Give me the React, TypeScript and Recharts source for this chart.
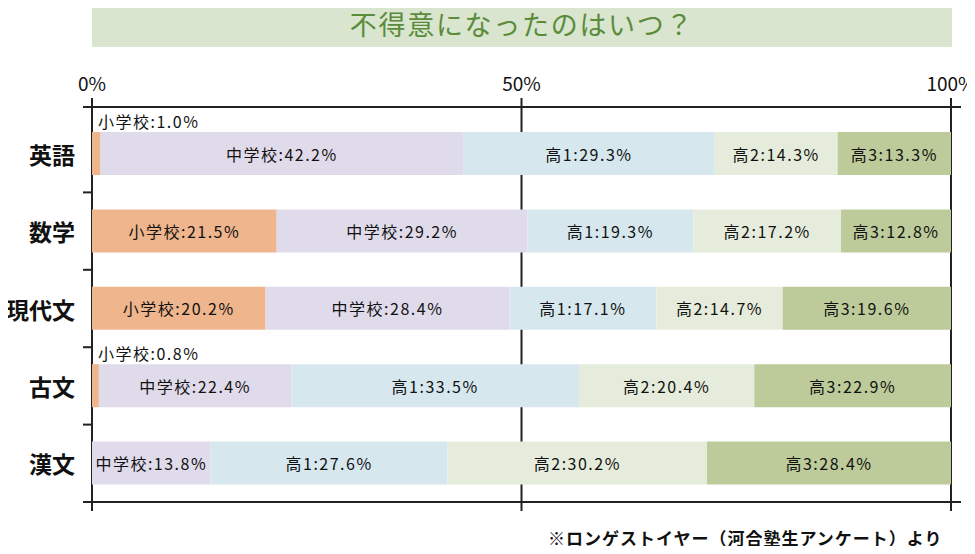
import { Bar, BarChart, CartesianGrid, LabelList, XAxis, YAxis } from "recharts";

const subjects = ["英語", "数学", "現代文", "古文", "漢文"];
const stages = ["小学校", "中学校", "高1", "高2", "高3"];
const elementary = [1.0, 21.5, 20.2, 0.8, 0];
const juniorHigh = [42.2, 29.2, 28.4, 22.4, 13.8];
const high1 = [29.3, 19.3, 17.1, 33.5, 27.6];
const high2 = [14.3, 17.2, 14.7, 20.4, 30.2];
const high3 = [13.3, 12.8, 19.6, 22.9, 28.4];
const percentTicks = [0, 50, 100];

const series = [elementary, juniorHigh, high1, high2, high3];
const colors = ["#efb58c", "#e0dbea", "#d6e7ee", "#e5ecdc", "#bccb99"];

const data = subjects.map((subject, i) => {
  const row: Record<string, string | number> = { subject };
  series.forEach((values, s) => {
    row[`s${s}`] = values[i];
  });
  return row;
});

const FONT = '"Noto Sans CJK JP", "Noto Sans", sans-serif';
const INK = "#222";
const LINE = { stroke: INK, strokeWidth: 2 };
const TICK_LEN = 9;

const segmentLabel = (stage: string) => (props: any) => {
  const { x, y, width, height, value } = props;
  const v = Number(value);
  if (!v) return null;
  const text = `${stage}:${v.toFixed(1)}%`;
  if (v < 3) {
    return (
      <text x={x + 6} y={y - 4} fontSize={16} letterSpacing={1.5} fill="#111" fontFamily={FONT}>
        {text}
      </text>
    );
  }
  return (
    <text
      x={x + width / 2}
      y={y + height / 2}
      textAnchor="middle"
      dominantBaseline="central"
      fontSize={16}
      letterSpacing={1.5}
      fill="#111"
      fontFamily={FONT}
    >
      {text}
    </text>
  );
};

// subject name plus a short tick on the boundary above each row
function SubjectTick(props: any) {
  const { x, y, payload, index } = props;
  const half = Number(payload?.offset) || 0;
  return (
    <g>
      {index > 0 && half > 0 && (
        <line x1={x} x2={x + TICK_LEN} y1={y - half} y2={y - half} {...LINE} />
      )}
      <text
        x={x - 8}
        y={y}
        textAnchor="end"
        dominantBaseline="central"
        fontSize={23}
        fontWeight={700}
        fill="#111"
        fontFamily={FONT}
      >
        {payload.value}
      </text>
    </g>
  );
}

export default function App() {
  return (
    <div
      style={{
        position: "relative",
        width: 975,
        height: 554,
        margin: -8,
        overflow: "hidden",
        fontFamily: FONT,
        background: "#fff",
      }}
    >
      <BarChart
        width={975}
        height={554}
        data={data}
        layout="vertical"
        margin={{ top: 77, right: 14, bottom: 32, left: 0 }}
      >
        <CartesianGrid horizontal={false} syncWithTicks stroke={INK} strokeWidth={2} />
        <XAxis
          type="number"
          orientation="top"
          domain={[0, 100]}
          allowDataOverflow
          ticks={percentTicks}
          tickFormatter={(v) => `${v}%`}
          padding={{ left: 9, right: 10 }}
          height={30}
          axisLine={LINE}
          tickLine={LINE}
          tickSize={TICK_LEN}
          tickMargin={7}
          tick={{ fontSize: 19, fill: "#111", fontFamily: FONT }}
        />
        <XAxis
          xAxisId="bottom"
          type="number"
          orientation="bottom"
          domain={[0, 100]}
          allowDataOverflow
          ticks={percentTicks}
          tickFormatter={() => ""}
          padding={{ left: 9, right: 10 }}
          height={20}
          axisLine={LINE}
          tickLine={LINE}
          tickSize={TICK_LEN}
        />
        <YAxis
          type="category"
          dataKey="subject"
          width={83}
          padding={{ top: 8, bottom: 0 }}
          axisLine={false}
          tickLine={false}
          tickSize={0}
          tickMargin={0}
          tick={SubjectTick}
        />
        {stages.map((stage, s) => (
          <Bar
            key={stage}
            dataKey={`s${s}`}
            name={stage}
            stackId="a"
            fill={colors[s]}
            barSize={43}
            isAnimationActive={false}
          >
            <LabelList dataKey={`s${s}`} content={segmentLabel(stage)} />
          </Bar>
        ))}
      </BarChart>
      <div
        style={{
          position: "absolute",
          left: 92,
          top: 0,
          width: 860,
          height: 47,
          background: "#d9e5ce",
          color: "#5b8c3c",
          fontSize: 27,
          letterSpacing: 1.7,
          display: "flex",
          alignItems: "center",
          justifyContent: "center",
        }}
      >
        不得意になったのはいつ？
      </div>
      <div
        style={{
          position: "absolute",
          left: 548,
          top: 528,
          fontSize: 17,
          fontWeight: 700,
          letterSpacing: 1,
          color: "#111",
          lineHeight: "20px",
          whiteSpace: "nowrap",
        }}
      >
        ※ロンゲストイヤー（河合塾生アンケート）より
      </div>
    </div>
  );
}
